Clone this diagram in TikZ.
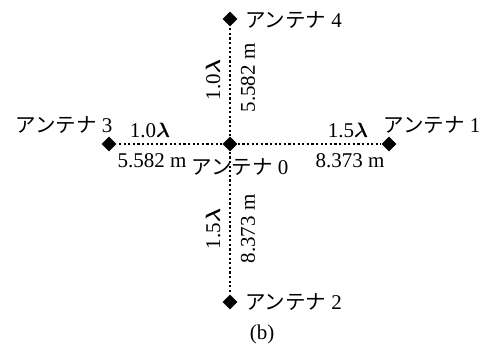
\documentclass[tikz,border=0pt]{standalone}
\usepackage{fontspec}
\usepackage{bm}
\setmainfont{Liberation Serif}
\newfontfamily\cjk{Noto Sans CJK JP}
\usetikzlibrary{shapes.geometric}
\newcommand{\ant}[1]{{\cjk\fontsize{20.5}{24}\selectfont アンテナ}\hspace{5pt}#1}
\begin{document}
\begin{tikzpicture}[x=1pt,y=1pt,
  antenna/.style={diamond,fill=black,inner sep=0pt,minimum size=15pt},
  lbl/.style={inner sep=0pt,font=\fontsize{21}{25}\selectfont},
  dotline/.style={line width=2.2pt,dash pattern=on 2.2pt off 2.4pt}]
\useasboundingbox (0,0) rectangle (487,349);
\node[antenna] (a0) at (230,205) {};
\node[antenna] (a4) at (230,330) {};
\node[antenna] (a3) at (109,205) {};
\node[antenna] (a1) at (389,205) {};
\node[antenna] (a2) at (230,47) {};
\draw[dotline] (a0) -- (a4);
\draw[dotline] (a0) -- (a3);
\draw[dotline] (a0) -- (a1);
\draw[dotline] (a0) -- (a2);
\node[lbl] (l4) at (293.5,329) {\ant{4}};
\node[lbl] (l3) at (64,224) {\ant{3}};
\node[lbl] (l1) at (432,224) {\ant{1}};
\node[lbl] (l0) at (240,182) {\ant{0}};
\node[lbl] (l2) at (293.5,47) {\ant{2}};
\node[lbl,rotate=90] (v10) at (213,269) {1.0$\bm{\lambda}$};
\node[lbl,rotate=90] (v5582) at (248,271) {5.582 m};
\node[lbl,rotate=90] (v15) at (213,120) {1.5$\bm{\lambda}$};
\node[lbl,rotate=90] (v8373) at (248,120) {8.373 m};
\node[lbl] (h10) at (150,219) {1.0$\bm{\lambda}$};
\node[lbl] (h5582) at (152,188) {5.582 m};
\node[lbl] (h15) at (348,219) {1.5$\bm{\lambda}$};
\node[lbl] (h8373) at (350,188) {8.373 m};
\node[lbl] (cap) at (262,15) {(b)};
\end{tikzpicture}
\end{document}
